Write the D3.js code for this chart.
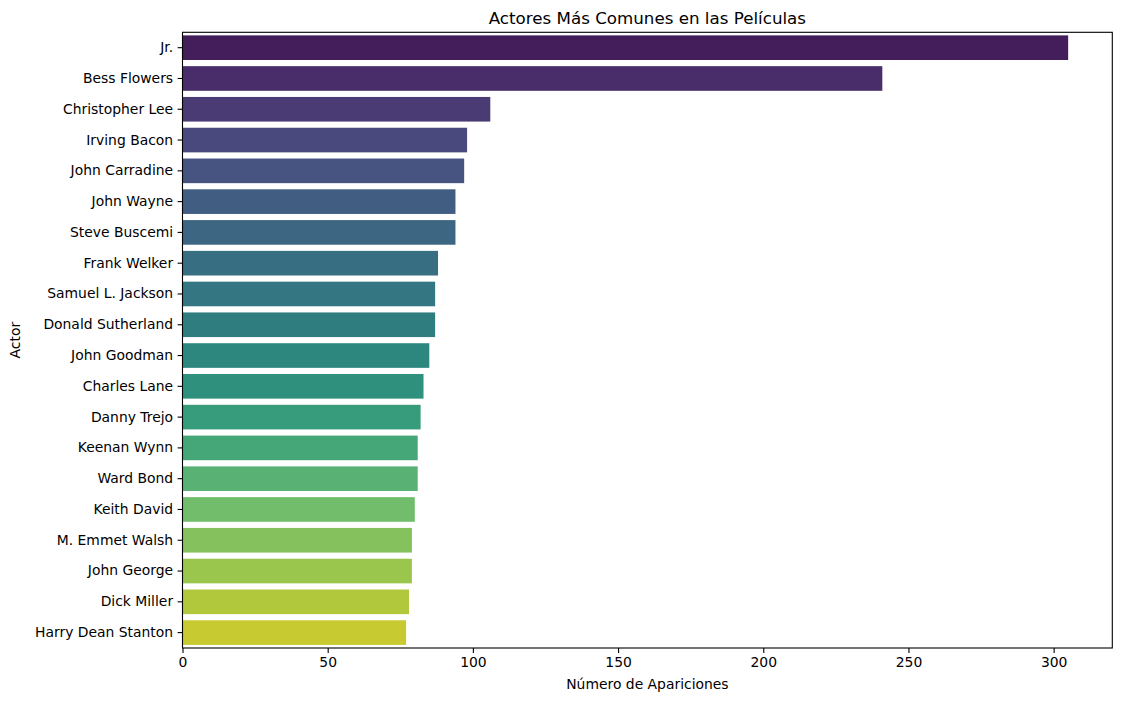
<!DOCTYPE html>
<html>
<head>
<meta charset="utf-8">
<script src="https://cdn.jsdelivr.net/npm/d3@7"></script>
<style>
  body { margin: 0; background: #fff; }
  text { font-family: "DejaVu Sans", sans-serif; fill: #000; }
</style>
</head>
<body>
<div id="chart"></div>
<script>
// Data
const actors = [
  "Jr.", "Bess Flowers", "Christopher Lee", "Irving Bacon", "John Carradine",
  "John Wayne", "Steve Buscemi", "Frank Welker", "Samuel L. Jackson",
  "Donald Sutherland", "John Goodman", "Charles Lane", "Danny Trejo",
  "Keenan Wynn", "Ward Bond", "Keith David", "M. Emmet Walsh", "John George",
  "Dick Miller", "Harry Dean Stanton"
];
const appearances = [305, 241, 106, 98, 97, 94, 94, 88, 87, 87, 85, 83, 82, 81, 81, 80, 79, 79, 78, 77];
const xTicks = [0, 50, 100, 150, 200, 250, 300];

const title = "Actores Más Comunes en las Películas";
const xLabel = "Número de Apariciones";
const yLabel = "Actor";

const W = 1121, H = 702;
const margin = { top: 32.3, right: 8.7, bottom: 54, left: 182.5 };
const width = W - margin.left - margin.right;
const height = H - margin.top - margin.bottom;

const data = actors.map((a, i) => ({ actor: a, count: appearances[i] }));

const svg = d3.select("#chart")
  .append("svg")
  .attr("width", W)
  .attr("height", H);

const g = svg.append("g")
  .attr("transform", `translate(${margin.left},${margin.top})`);

// seaborn-like viridis palette, desaturated by 0.75
const color = (i) => {
  const c = d3.hsl(d3.interpolateViridis((i + 1) / (actors.length + 1)));
  c.s *= 0.75;
  return c.formatHex();
};

const x = d3.scaleLinear().domain([0, 320.2]).range([0, width]);
const y = d3.scaleBand().domain(actors).range([0, height]).paddingInner(0.2).paddingOuter(0.1);

// Bars
g.selectAll("rect.bar")
  .data(data)
  .enter()
  .append("rect")
  .attr("class", "bar")
  .attr("x", x(0))
  .attr("y", (d) => y(d.actor))
  .attr("width", (d) => x(d.count) - x(0))
  .attr("height", y.bandwidth())
  .attr("fill", (d, i) => color(i));

// Axes
const xAxis = g.append("g")
  .attr("transform", `translate(0,${height})`)
  .call(d3.axisBottom(x).tickValues(xTicks).tickSize(4.9).tickPadding(4.5));

const yAxis = g.append("g")
  .call(d3.axisLeft(y).tickSize(4.9).tickPadding(4.5));

[xAxis, yAxis].forEach((ax) => {
  ax.select(".domain").remove();
  ax.selectAll(".tick line").attr("stroke", "#000").attr("stroke-width", 1.1);
  ax.selectAll(".tick text")
    .style("font-family", "DejaVu Sans, sans-serif")
    .style("font-size", "13.9px")
    .attr("fill", "#000");
});

// Frame (spines)
g.append("rect")
  .attr("width", width)
  .attr("height", height)
  .attr("fill", "none")
  .attr("stroke", "#000")
  .attr("stroke-width", 1.1);

// Title and labels
svg.append("text")
  .attr("x", margin.left + width / 2)
  .attr("y", 23.5)
  .attr("text-anchor", "middle")
  .style("font-size", "16.7px")
  .text(title);

svg.append("text")
  .attr("x", margin.left + width / 2)
  .attr("y", 689)
  .attr("text-anchor", "middle")
  .style("font-size", "13.9px")
  .text(xLabel);

svg.append("text")
  .attr("transform", `translate(20,${margin.top + height / 2}) rotate(-90)`)
  .attr("text-anchor", "middle")
  .style("font-size", "13.9px")
  .text(yLabel);
</script>
</body>
</html>
